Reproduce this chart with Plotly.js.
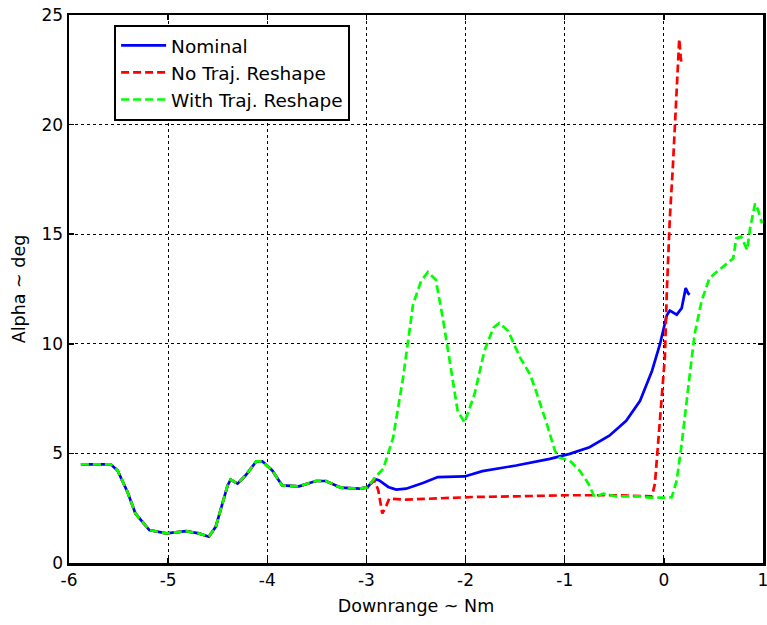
<!DOCTYPE html>
<html>
<head>
<meta charset="utf-8">
<script src="https://cdn.plot.ly/plotly-3.0.1.min.js"></script>
<style>html,body{margin:0;padding:0;background:#fff;}#chart{width:767px;height:625px;}</style>
</head>
<body>
<div id="chart"></div>
<script>
// Shared early segment (all three runs coincide)
var commonX = [-5.88,-5.58,-5.51,-5.41,-5.33,-5.19,-5.02,-4.82,-4.69,-4.59,-4.52,-4.45,-4.40,-4.37,-4.30,-4.22,-4.11,-4.05,-3.95,-3.85,-3.68,-3.51,-3.41,-3.26,-3.07,-2.99];
var commonY = [4.5,4.5,4.22,3.24,2.26,1.5,1.35,1.45,1.35,1.2,1.65,2.71,3.54,3.8,3.62,3.99,4.64,4.64,4.22,3.54,3.5,3.74,3.74,3.44,3.39,3.45];

// Nominal continuation
var nominalX = [-2.92,-2.87,-2.78,-2.70,-2.60,-2.43,-2.28,-2.01,-1.83,-1.49,-1.15,-0.95,-0.75,-0.55,-0.38,-0.24,-0.12,-0.04,0.01,0.03,0.06,0.13,0.18,0.22,0.245,0.26];
var nominalY = [3.84,3.77,3.47,3.35,3.39,3.65,3.92,3.95,4.19,4.45,4.75,4.98,5.28,5.81,6.49,7.40,8.76,9.97,11.03,11.3,11.52,11.33,11.63,12.54,12.3,12.24];

// No Traj. Reshape continuation
var noReshapeX = [-2.92,-2.88,-2.84,-2.80,-2.77,-2.60,-2.26,-1.93,-1.49,-0.98,-0.48,-0.12,-0.09,-0.04,0.01,0.03,0.06,0.09,0.11,0.13,0.145,0.155,0.17,0.18];
var noReshapeY = [3.77,3.31,2.26,2.6,2.94,2.89,2.94,3.01,3.04,3.09,3.09,3.04,3.62,6.64,9.37,12.39,15.72,18.0,19.96,21.78,23.6,23.9,23.1,22.7];

// With Traj. Reshape continuation
var withReshapeX = [-2.91,-2.83,-2.73,-2.63,-2.53,-2.45,-2.38,-2.30,-2.23,-2.16,-2.08,-2.01,-1.91,-1.81,-1.72,-1.66,-1.57,-1.45,-1.35,-1.29,-1.18,-1.10,-1.05,-0.95,-0.85,-0.76,-0.70,-0.61,-0.48,-0.24,-0.14,0.01,0.08,0.13,0.18,0.25,0.31,0.38,0.46,0.60,0.70,0.73,0.78,0.84,0.87,0.92,0.95,0.99];
var withReshapeY = [3.92,4.30,5.73,8.46,11.79,12.85,13.27,12.92,11.18,9.21,6.94,6.41,7.70,9.67,10.73,10.95,10.58,9.37,8.61,7.85,6.34,5.13,4.80,4.68,4.22,3.62,3.01,3.16,3.04,3.04,2.98,2.98,3.0,3.77,5.43,8.16,10.43,11.94,13.0,13.53,13.9,14.81,14.89,14.28,15.27,16.4,16.1,15.5];

var seriesNames = ["Nominal","No Traj. Reshape","With Traj. Reshape"];
var xTicks = [-6,-5,-4,-3,-2,-1,0,1];
var yTicks = [0,5,10,15,20,25];

var font = {family: "DejaVu Sans, Liberation Sans, sans-serif", size: 17, color: "#000"};
var titleFont = {family: "DejaVu Sans, Liberation Sans, sans-serif", size: 17.5, color: "#000"};
var legendFont = {family: "DejaVu Sans, Liberation Sans, sans-serif", size: 18.5, color: "#000"};

var traces = [
  {x: commonX.concat(nominalX), y: commonY.concat(nominalY), name: seriesNames[0], mode: "lines",
   line: {color: "#0000ff", width: 2.7}},
  {x: commonX.concat(noReshapeX), y: commonY.concat(noReshapeY), name: seriesNames[1], mode: "lines",
   line: {color: "#ff0000", width: 2.7, dash: "8px,4px"}},
  {x: commonX.concat(withReshapeX), y: commonY.concat(withReshapeY), name: seriesNames[2], mode: "lines",
   line: {color: "#00ff00", width: 2.7, dash: "8px,4px"}}
];

var axisCommon = {
  showline: true, linecolor: "#000", linewidth: 2.5, mirror: "allticks",
  ticks: "inside", ticklen: 5, tickwidth: 1.5, tickcolor: "#000",
  showgrid: true, gridcolor: "#000", gridwidth: 1, griddash: "3px,3px",
  zeroline: false, tickfont: font, ticklabeloverflow: "allow"
};

var layout = {
  width: 767, height: 625,
  margin: {l: 69, r: 4, t: 15, b: 62},
  paper_bgcolor: "#fff", plot_bgcolor: "#fff",
  font: font,
  showlegend: true,
  xaxis: Object.assign({}, axisCommon, {
    range: [-6, 1], tickvals: xTicks, ticktext: xTicks.map(String),
    title: {text: "Downrange ~ Nm", font: titleFont, standoff: 11}
  }),
  yaxis: Object.assign({}, axisCommon, {
    range: [0, 25], tickvals: yTicks, ticktext: yTicks.map(String),
    title: {text: "Alpha ~ deg", font: titleFont, standoff: 12}
  }),
  legend: {
    x: 0.065, y: 0.982, xanchor: "left", yanchor: "top",
    bgcolor: "#fff", bordercolor: "#000", borderwidth: 2,
    font: legendFont, tracegroupgap: 0, itemwidth: 45
  }
};

Plotly.newPlot("chart", traces, layout, {displayModeBar: false, staticPlot: true});
</script>
</body>
</html>
